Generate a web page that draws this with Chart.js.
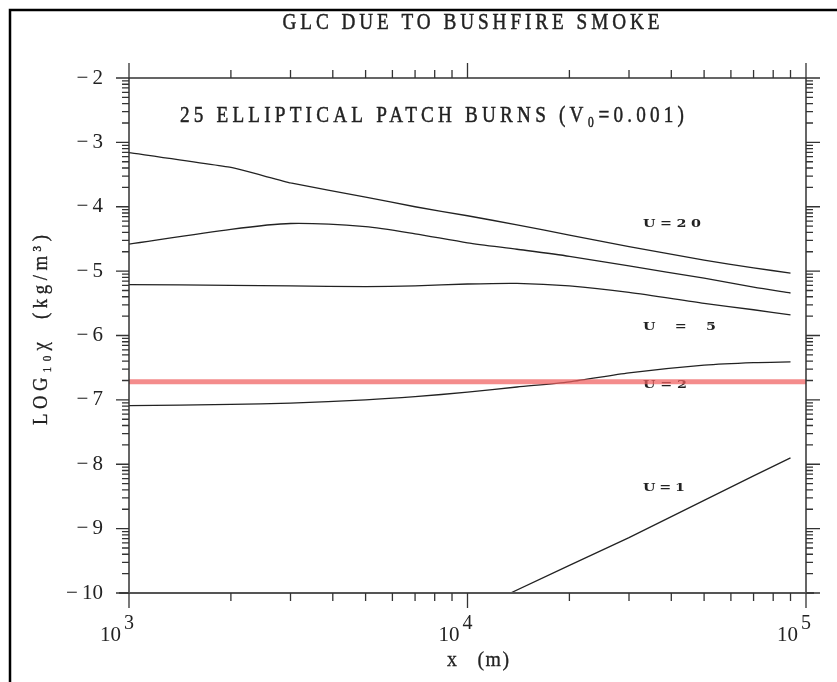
<!DOCTYPE html>
<html>
<head>
<meta charset="utf-8">
<script src="https://cdn.jsdelivr.net/npm/chart.js@4/dist/chart.umd.min.js"></script>
<style>
  html, body { margin: 0; padding: 0; background: #fff; }
  #wrap { width: 837px; height: 682px; position: relative; }
</style>
</head>
<body>
<div id="wrap"><canvas id="c" width="837" height="682"></canvas></div>
<script>
// Downwind distance (m) and log10 ground-level concentration (kg/m^3)
const distance = [1000, 2000, 3000, 5000, 7000, 10000, 14000, 20000, 30000, 50000, 70000, 90000];
const glcU20 = [-3.16, -3.39, -3.63, -3.85, -4.00, -4.14, -4.28, -4.44, -4.62, -4.83, -4.95, -5.03];
const glcU10 = [-4.58, -4.35, -4.26, -4.31, -4.42, -4.56, -4.66, -4.77, -4.92, -5.11, -5.25, -5.34];
const glcU5  = [-5.21, -5.22, -5.23, -5.24, -5.23, -5.20, -5.19, -5.23, -5.33, -5.50, -5.60, -5.68];
const glcU2  = [-7.09, -7.07, -7.05, -7.00, -6.95, -6.88, -6.80, -6.72, -6.58, -6.46, -6.42, -6.41];
const distanceU1 = [1000, 5000, 10000, 13400, 20000, 30000, 50000, 70000, 90000];
const glcU1      = [-10, -10, -10, -10, -9.57, -9.14, -8.56, -8.18, -7.90];
// Reference concentration level
const limitX = [1000, 100000];
const limitY = [-6.72, -6.72];
// Axis decades
const xExponents = [3, 4, 5];
const yMin = -10, yMax = -2;

const pts = (xs, ys) => xs.map((x, i) => ({ x, y: ys[i] }));
const INK = '#222';
const SERIF = '"Liberation Serif", "DejaVu Serif", serif';

// Draws text centred on (cx, cy), stretched horizontally by sx and spread to a given width
function spacedText(ctx, text, cx, cy, width, font, sx, heavy) {
  sx = sx || 1;
  ctx.save();
  ctx.font = font;
  ctx.letterSpacing = '0px';
  const w0 = ctx.measureText(text).width;
  const n = [...text].length;
  const sp = n > 1 ? (width / sx - w0) / (n - 1) : 0;
  ctx.letterSpacing = sp + 'px';
  ctx.textAlign = 'left';
  ctx.textBaseline = 'middle';
  ctx.fillStyle = INK;
  ctx.translate(cx - width / 2, cy);
  ctx.scale(sx, 1);
  ctx.fillText(text, 0, 0);
  if (heavy) {
    ctx.strokeStyle = INK;
    ctx.lineWidth = heavy;
    ctx.strokeText(text, 0, 0);
  }
  ctx.restore();
}

const curveLabels = {
  id: 'curveLabels',
  beforeDatasetsDraw(chart) {
    const { ctx, scales: { x, y } } = chart;
    const items = [
      { t: 'U=20',  v: -4.27, w: 58 },
      { t: 'U = 5', v: -5.87, w: 73 },
      { t: 'U=2',   v: -6.77, w: 44 },
      { t: 'U=1',   v: -8.37, w: 42 }
    ];
    const left = x.getPixelForValue(33000);
    items.forEach(it => {
      spacedText(ctx, it.t, left + it.w / 2, y.getPixelForValue(it.v), it.w, 'bold 11px "DejaVu Serif", serif', 1.3);
    });
  }
};

const frame = {
  id: 'frame',
  afterDraw(chart) {
    const { ctx, chartArea: a, scales: { x, y } } = chart;
    ctx.save();
    // plot box
    ctx.strokeStyle = '#333';
    ctx.lineWidth = 1.5;
    ctx.beginPath();
    ctx.moveTo(a.left, a.top); ctx.lineTo(a.right, a.top);
    ctx.moveTo(a.right, a.top); ctx.lineTo(a.right, a.bottom);
    ctx.moveTo(a.left, a.top); ctx.lineTo(a.left, a.bottom);
    ctx.stroke();
    ctx.strokeStyle = '#555';
    ctx.lineWidth = 2;
    ctx.beginPath();
    ctx.moveTo(a.left - 10, a.bottom); ctx.lineTo(a.right + 8, a.bottom);
    ctx.stroke();

    // x ticks (log decades + minors), outward on bottom and top
    ctx.strokeStyle = '#333';
    ctx.lineWidth = 1.3;
    ctx.beginPath();
    for (let e = xExponents[0]; e < xExponents[xExponents.length - 1]; e++) {
      for (let k = 1; k <= 9; k++) {
        const px = x.getPixelForValue(k * Math.pow(10, e));
        const len = k === 1 ? 15 : 8;
        ctx.moveTo(px, a.bottom); ctx.lineTo(px, a.bottom + len);
        ctx.moveTo(px, a.top); ctx.lineTo(px, a.top - len);
      }
    }
    const pEnd = x.getPixelForValue(Math.pow(10, xExponents[xExponents.length - 1]));
    ctx.moveTo(pEnd, a.bottom); ctx.lineTo(pEnd, a.bottom + 15);
    ctx.moveTo(pEnd, a.top); ctx.lineTo(pEnd, a.top - 15);

    // y ticks: integers long, log-spaced minors short, outward on left and right
    for (let n = yMin; n <= yMax; n++) {
      const py = y.getPixelForValue(n);
      ctx.moveTo(a.left, py); ctx.lineTo(a.left - 13, py);
      ctx.moveTo(a.right, py); ctx.lineTo(a.right + 14, py);
      if (n < yMax) {
        for (let k = 2; k <= 9; k++) {
          const pm = y.getPixelForValue(n + Math.log10(k));
          ctx.moveTo(a.left, pm); ctx.lineTo(a.left - 7, pm);
          ctx.moveTo(a.right, pm); ctx.lineTo(a.right + 7, pm);
        }
      }
    }
    ctx.stroke();

    // x tick labels 10^n
    ctx.fillStyle = INK;
    ctx.textBaseline = 'alphabetic';
    xExponents.forEach(e => {
      const px = x.getPixelForValue(Math.pow(10, e));
      ctx.font = '21px ' + SERIF;
      ctx.textAlign = 'right';
      ctx.fillText('10', px - 8, 641);
      ctx.font = '20px ' + SERIF;
      ctx.textAlign = 'left';
      ctx.fillText(String(e), px - 5, 629);
    });

    // titles
    spacedText(ctx, 'GLC DUE TO BUSHFIRE SMOKE', 471, 23, 377, '24px ' + SERIF, 0.8, 0.5);
    spacedText(ctx, '25 ELLIPTICAL PATCH BURNS (V\u2080=0.001)', 432, 116, 504, '24px ' + SERIF, 0.8, 0.5);
    spacedText(ctx, 'x   (m)', 478, 660, 62, '22px ' + SERIF, 0.9, 0.3);
    ctx.save();
    ctx.translate(41, 330);
    ctx.rotate(-Math.PI / 2);
    spacedText(ctx, 'LOG\u2081\u2080\u03C7  (kg/m\u00B3)', 0, 0, 190, '22px ' + SERIF, 0.85, 0.3);
    ctx.restore();

    // page frame
    ctx.strokeStyle = '#000';
    ctx.lineWidth = 2.5;
    ctx.beginPath();
    ctx.moveTo(10, 682); ctx.lineTo(10, 10); ctx.lineTo(837, 10);
    ctx.stroke();
    ctx.restore();
  }
};

const curve = (data, tension) => ({
  data, borderColor: '#222', borderWidth: 1.3, pointRadius: 0, tension, order: 1
});

new Chart(document.getElementById('c'), {
  type: 'line',
  data: {
    datasets: [
      { label: 'limit', data: pts(limitX, limitY), borderColor: 'rgba(240,95,95,0.72)', borderWidth: 5, pointRadius: 0, order: 0 },
      Object.assign({ label: 'U=20' }, curve(pts(distance, glcU20), 0.1)),
      Object.assign({ label: 'U=10' }, curve(pts(distance, glcU10), 0.25)),
      Object.assign({ label: 'U=5' }, curve(pts(distance, glcU5), 0.25)),
      Object.assign({ label: 'U=2' }, curve(pts(distance, glcU2), 0.25)),
      Object.assign({ label: 'U=1' }, curve(pts(distanceU1, glcU1), 0))
    ]
  },
  options: {
    responsive: false,
    animation: false,
    layout: { padding: { left: 0, top: 78, right: 31, bottom: 0 } },
    plugins: { legend: { display: false }, tooltip: { enabled: false } },
    scales: {
      x: {
        type: 'logarithmic', min: 1000, max: 100000,
        grid: { display: false, drawTicks: false }, border: { display: false },
        ticks: { display: false },
        afterFit(s) { s.height = 89; }
      },
      y: {
        type: 'linear', min: yMin, max: yMax,
        grid: { display: false, drawTicks: false }, border: { display: false },
        ticks: {
          stepSize: 1, padding: 26, color: INK,
          font: { family: SERIF, size: 21 },
          callback: v => '\u2212\u2009' + Math.abs(v)
        },
        afterFit(s) { s.width = 129; }
      }
    }
  },
  plugins: [curveLabels, frame]
});
</script>
</body>
</html>
